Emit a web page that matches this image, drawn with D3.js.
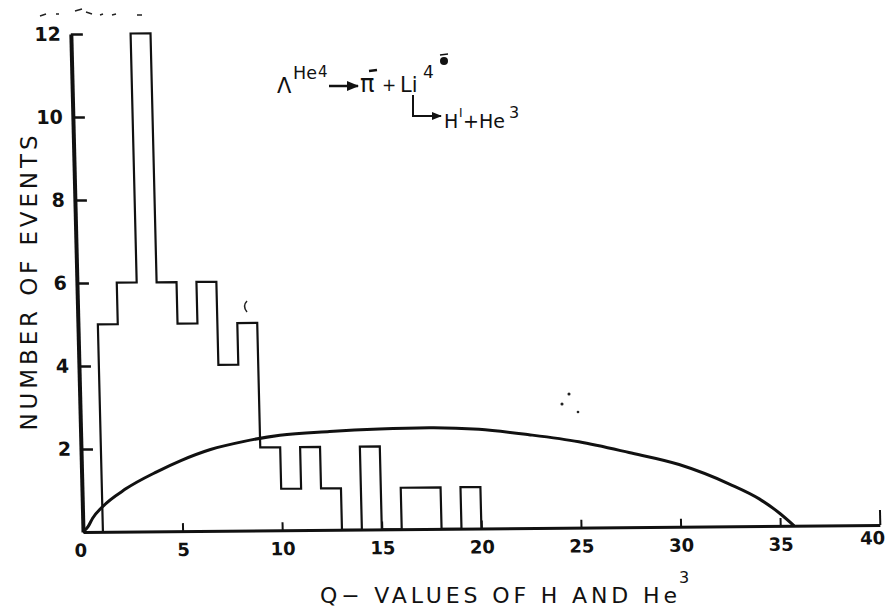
<!DOCTYPE html>
<html>
<head>
<meta charset="utf-8">
<script src="https://cdn.jsdelivr.net/npm/d3@7"></script>
<style>
  body { margin: 0; background: #fff; }
  text { font-family: "DejaVu Sans", sans-serif; fill: #111; }
</style>
</head>
<body>
<svg id="chart" width="890" height="612"></svg>
<script>
// histogram of Q-values, 1 MeV bins
var binEdges = [0, 1, 2, 3, 4, 5, 6, 7, 8, 9, 10, 11, 12, 13, 14, 15, 16, 17, 18, 19, 20];
var counts   = [0, 5, 6, 12, 6, 5, 6, 4, 5, 2, 1, 2, 1, 0, 2, 0, 1, 1, 0, 1];

// phase space curve
var curveQ = [0, 0.25, 0.5, 1, 2.2, 3.8, 5, 6.5, 8.2, 10, 12.5, 15, 17.5, 20, 22.5, 25, 27.5, 30, 32.5, 34, 35, 35.7];
var curveN = [0, 0.12, 0.33, 0.6, 1.03, 1.44, 1.7, 1.96, 2.15, 2.29, 2.37, 2.42, 2.44, 2.39, 2.25, 2.07, 1.8, 1.5, 1.02, 0.65, 0.3, 0];

var xTicks = [0, 5, 10, 15, 20, 25, 30, 35, 40];
var yTicks = [2, 4, 6, 8, 10, 12];

var svg = d3.select('#chart');
var W = 797, H = 498;

var x = d3.scaleLinear().domain([0, 40]).range([0, W]);
var y = d3.scaleLinear().domain([0, 12]).range([0, -H]);

// the scan is a bit crooked, so the plot frame is skewed a little
var g = svg.append('g').attr('transform', 'translate(83,532) skewX(1.4) skewY(-0.5)');

// x axis
var xAxis = d3.axisBottom(x).tickValues(xTicks).tickSizeInner(-8).tickSizeOuter(0).tickPadding(12);
var gx = g.append('g').call(xAxis);
gx.select('.domain').attr('stroke', '#111').attr('stroke-width', 3);
gx.selectAll('.tick line').attr('stroke', '#111').attr('stroke-width', 2)
  .attr('y2', function(d) { return d === 40 ? -15 : d === 0 ? 0 : -8; });
gx.selectAll('.tick text').attr('font-size', 18).attr('font-weight', 'bold').attr('fill', '#111')
  .attr('font-family', '"DejaVu Sans", sans-serif')
  .attr('dx', function(d) { return d === 40 ? -8 : d === 0 ? -3 : 0; })
  .attr('dy', function(d) { return d === 40 ? '0.4em' : '0.71em'; });

// y axis
var yAxis = d3.axisLeft(y).tickValues(yTicks).tickSizeInner(-12).tickSizeOuter(0).tickPadding(10);
var gy = g.append('g').call(yAxis);
gy.select('.domain').attr('stroke', '#111').attr('stroke-width', 4);
gy.selectAll('.tick line').attr('stroke', '#111').attr('stroke-width', 2.5);
gy.selectAll('.tick text').attr('font-size', 19).attr('font-weight', 'bold').attr('fill', '#111')
  .attr('font-family', '"DejaVu Sans", sans-serif');

// histogram outline
var steps = binEdges.map(function(e, i) { return [e, i < counts.length ? counts[i] : 0]; });
var stepLine = d3.line()
  .x(function(d) { return x(d[0]); })
  .y(function(d) { return y(d[1]); })
  .curve(d3.curveStepAfter);
g.append('path').datum(steps)
  .attr('d', stepLine)
  .attr('fill', 'none').attr('stroke', '#111').attr('stroke-width', 2.2);

// curve
var curvePts = curveQ.map(function(q, i) { return [q, curveN[i]]; });
var smooth = d3.line()
  .x(function(d) { return x(d[0]); })
  .y(function(d) { return y(d[1]); })
  .curve(d3.curveMonotoneX);
g.append('path').datum(curvePts)
  .attr('d', smooth)
  .attr('fill', 'none').attr('stroke', '#111').attr('stroke-width', 3);

// axis titles
svg.append('text')
  .attr('transform', 'translate(37,283) rotate(-90)')
  .attr('text-anchor', 'middle')
  .attr('font-size', 23)
  .attr('textLength', 295)
  .attr('lengthAdjust', 'spacing')
  .text('NUMBER  OF  EVENTS');

svg.append('text').attr('x', 320).attr('y', 603).attr('font-size', 22)
  .attr('textLength', 357).attr('lengthAdjust', 'spacing')
  .text('Q− VALUES  OF  H  AND  He');
svg.append('text').attr('x', 679).attr('y', 583).attr('font-size', 16).text('3');

// reaction annotation
var defs = svg.append('defs');
defs.append('marker').attr('id', 'arr').attr('viewBox', '0 0 10 10')
  .attr('refX', 9).attr('refY', 5).attr('markerWidth', 5).attr('markerHeight', 5)
  .attr('orient', 'auto')
  .append('path').attr('d', 'M0,1 L10,5 L0,9 Z').attr('fill', '#111');

var ann = svg.append('g');
ann.append('text').attr('x', 277).attr('y', 93).attr('font-size', 21).text('Λ');
ann.append('text').attr('x', 293).attr('y', 79).attr('font-size', 17)
  .attr('textLength', 24).attr('lengthAdjust', 'spacingAndGlyphs').text('He');
ann.append('text').attr('x', 318).attr('y', 77).attr('font-size', 15).text('4');
ann.append('line').attr('x1', 329).attr('y1', 86).attr('x2', 358).attr('y2', 86)
  .attr('stroke', '#111').attr('stroke-width', 2.5).attr('marker-end', 'url(#arr)');
ann.append('text').attr('x', 360).attr('y', 92).attr('font-size', 24).text('π');
ann.append('line').attr('x1', 369).attr('y1', 71).attr('x2', 377).attr('y2', 70)
  .attr('stroke', '#111').attr('stroke-width', 2.5);
ann.append('text').attr('x', 389).attr('y', 91).attr('font-size', 17)
  .attr('text-anchor', 'middle').text('+');
ann.append('text').attr('x', 400).attr('y', 92).attr('font-size', 21).text('Li');
ann.append('text').attr('x', 423).attr('y', 78).attr('font-size', 17).text('4');
ann.append('circle').attr('cx', 444).attr('cy', 61).attr('r', 4).attr('fill', '#111');
ann.append('line').attr('x1', 440).attr('y1', 55).attr('x2', 448).attr('y2', 54)
  .attr('stroke', '#111').attr('stroke-width', 1.5);
ann.append('path').attr('d', 'M413,95 L413,116 L441,116')
  .attr('fill', 'none').attr('stroke', '#111').attr('stroke-width', 2).attr('marker-end', 'url(#arr)');
ann.append('text').attr('x', 444).attr('y', 128).attr('font-size', 19).text('H');
ann.append('text').attr('x', 459).attr('y', 117).attr('font-size', 12).text('I');
ann.append('text').attr('x', 463).attr('y', 128).attr('font-size', 19).text('+He');
ann.append('text').attr('x', 509).attr('y', 118).attr('font-size', 16).text('3');

// specks from the scan
var specks = svg.append('g').attr('stroke', '#222').attr('fill', 'none').attr('stroke-width', 1.5);
specks.append('path').attr('d', 'M40,16 L46,14 M56,14 L59,14 M75,11 L82,9 M86,12 L92,14 M100,15 L103,14 M112,15 L116,14 M137,15 L142,15');
specks.append('path').attr('d', 'M247,301 Q242,306 247,312');
specks.append('circle').attr('cx', 569).attr('cy', 394).attr('r', 0.8);
specks.append('circle').attr('cx', 562).attr('cy', 404).attr('r', 0.8);
specks.append('circle').attr('cx', 578).attr('cy', 412).attr('r', 0.6);
</script>
</body>
</html>
